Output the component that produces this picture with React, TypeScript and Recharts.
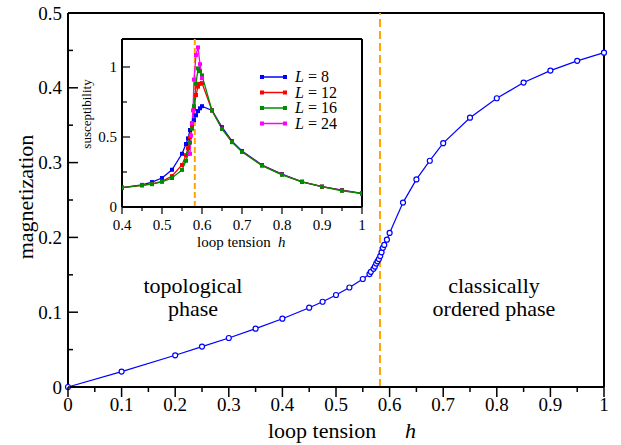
import React from 'react';
import { Legend, Line, LineChart, ReferenceLine, XAxis, YAxis } from 'recharts';

const SERIF =
  '"Liberation Serif", "Noto Serif", "Noto Serif CJK SC", Tinos, "Nimbus Roman", FreeSerif, "DejaVu Serif", "Times New Roman", Times, serif';
const serif = { fontFamily: SERIF };

// main panel: magnetization vs loop tension h
const mainH = [
  0, 0.1, 0.2, 0.25, 0.3, 0.35, 0.4, 0.45, 0.475, 0.5, 0.525, 0.55, 0.5625, 0.565, 0.57,
  0.5725, 0.575, 0.5775, 0.58, 0.5825, 0.585, 0.5875, 0.59, 0.595, 0.6, 0.625, 0.65, 0.675,
  0.7, 0.75, 0.8, 0.85, 0.9, 0.95, 1,
];
const mainM = [
  0, 0.0206, 0.0424, 0.054, 0.0655, 0.078, 0.0913, 0.106, 0.114, 0.123, 0.133, 0.1444, 0.151,
  0.154, 0.158, 0.161, 0.165, 0.168, 0.171, 0.175, 0.18, 0.186, 0.19, 0.197, 0.206, 0.2465,
  0.2775, 0.3025, 0.326, 0.36, 0.386, 0.407, 0.423, 0.436, 0.447,
];

// inset: susceptibility for each system size
const L8H = [
  0.4, 0.45, 0.475, 0.5, 0.525, 0.55, 0.56, 0.565, 0.57, 0.575, 0.58, 0.585, 0.59, 0.595, 0.6,
  0.625, 0.65, 0.675, 0.7, 0.75, 0.8, 0.85, 0.9, 0.95, 1,
];
const L8 = [
  0.138, 0.158, 0.178, 0.207, 0.266, 0.38, 0.45, 0.49, 0.55, 0.59, 0.62, 0.655, 0.685, 0.705,
  0.72, 0.69, 0.57, 0.47, 0.4, 0.3, 0.235, 0.18, 0.145, 0.12, 0.097,
];
const L12H = L8H;
const L12 = [
  0.138, 0.155, 0.165, 0.183, 0.221, 0.3, 0.37, 0.42, 0.5, 0.58, 0.7, 0.8, 0.86, 0.88, 0.885,
  0.69, 0.56, 0.465, 0.395, 0.297, 0.232, 0.18, 0.145, 0.118, 0.096,
];
const L16H = L8H;
const L16 = [
  0.138, 0.155, 0.163, 0.18, 0.207, 0.265, 0.33, 0.38, 0.46, 0.56, 0.72, 0.88, 0.99, 0.97, 0.94,
  0.69, 0.558, 0.463, 0.394, 0.296, 0.23, 0.18, 0.145, 0.116, 0.097,
];
const L24H = [0.57, 0.5725, 0.575, 0.5775, 0.58, 0.585, 0.59, 0.595, 0.6];
const L24 = [0.38, 0.51, 0.6, 0.69, 0.91, 1.085, 1.14, 1.02, 0.92];

const mainXTicks = [
  0, 0.05, 0.1, 0.15, 0.2, 0.25, 0.3, 0.35, 0.4, 0.45, 0.5, 0.55, 0.6, 0.65, 0.7, 0.75, 0.8, 0.85,
  0.9, 0.95, 1,
];
const mainYTicks = [0, 0.05, 0.1, 0.15, 0.2, 0.25, 0.3, 0.35, 0.4, 0.45, 0.5];
const insetXTicks = [0.4, 0.45, 0.5, 0.55, 0.6, 0.65, 0.7, 0.75, 0.8, 0.85, 0.9, 0.95, 1];
const insetYTicks = [0, 0.25, 0.5, 0.75, 1];

const hCritical = 0.582;

const mainData = mainH.map((h, i) => ({ h, m: mainM[i] }));
const zip = (hs: number[], vs: number[]) => hs.map((h, i) => ({ h, chi: vs[i] }));
const insetSeries = [
  { name: '8', color: '#0000ff', data: zip(L8H, L8) },
  { name: '12', color: '#ff0000', data: zip(L12H, L12) },
  { name: '16', color: '#008b00', data: zip(L16H, L16) },
  { name: '24', color: '#ff00ff', data: zip(L24H, L24) },
];

const onStep = (v: number, step: number) => Math.abs(v / step - Math.round(v / step)) < 1e-6;
const fmt = (v: number) => String(Number(v.toFixed(2)));

function xTick(step: number, major: number, minor: number, size: number, dy: number, sw: number) {
  return (p: any) => {
    const { x, y, payload } = p;
    const big = onStep(payload.value, step);
    return (
      <g>
        <line x1={x} x2={x} y1={y} y2={y + (big ? major : minor)} stroke="#000" strokeWidth={sw} />
        {big && (
          <text x={x} y={y + dy} textAnchor="middle" fontSize={size} style={serif} fill="#000">
            {fmt(payload.value)}
          </text>
        )}
      </g>
    );
  };
}

function yTick(step: number, major: number, minor: number, size: number, gap: number, sw: number, side: 1 | -1) {
  return (p: any) => {
    const { x, y, payload } = p;
    const big = onStep(payload.value, step);
    return (
      <g>
        <line x1={x} x2={x + side * (big ? major : minor)} y1={y} y2={y} stroke="#000" strokeWidth={sw} />
        {big && side === 1 && (
          <text x={x - gap} y={y} dy="0.35em" textAnchor="end" fontSize={size} style={serif} fill="#000">
            {fmt(payload.value)}
          </text>
        )}
      </g>
    );
  };
}

const square = (color: string) => (p: any) => (
  <rect key={p.index} x={p.cx - 2} y={p.cy - 2} width={4} height={4} fill={color} />
);

const renderLegend = (props: any) => {
  const payload = props.payload || [];
  return (
    <svg width={110} height={64} style={{ display: 'block' }}>
      {payload.map((p: any, i: number) => (
        <g key={i} transform={`translate(0, ${8 + i * 15.5})`}>
          <line x1={4} x2={27} y1={0} y2={0} stroke={p.color} strokeWidth={1.5} />
          <rect x={2} y={-2} width={4} height={4} fill={p.color} />
          <rect x={25} y={-2} width={4} height={4} fill={p.color} />
          <text x={37} y={5} fontSize={16} style={serif} fill="#000">
            <tspan fontStyle="italic">L</tspan> = {p.value}
          </text>
        </g>
      ))}
    </svg>
  );
};

const axisLine = { stroke: '#000', strokeWidth: 2 };

export default function App() {
  return (
    <div style={{ position: 'absolute', left: 0, top: 0, width: 621, height: 445, background: '#fff', ...serif }}>
      <div style={{ position: 'absolute', left: 0, top: 0 }}>
        <LineChart width={621} height={445} data={mainData} margin={{ top: 13, right: 0, bottom: 0, left: 0 }}>
          <XAxis
            dataKey="h"
            type="number"
            domain={[0, 1]}
            ticks={mainXTicks}
            interval={0}
            height={58}
            tickSize={0}
            tickMargin={0}
            axisLine={axisLine}
            tickLine={false}
            tick={xTick(0.1, 10, 5, 19, 24, 1.5)}
          />
          <YAxis
            type="number"
            domain={[0, 0.5]}
            ticks={mainYTicks}
            interval={0}
            width={68}
            tickSize={0}
            tickMargin={0}
            axisLine={axisLine}
            tickLine={false}
            tick={yTick(0.1, 10, 5, 19, 6, 1.5, 1)}
          />
          <YAxis
            yAxisId="r"
            orientation="right"
            type="number"
            domain={[0, 0.5]}
            ticks={mainYTicks}
            interval={0}
            width={17}
            tickSize={0}
            tickMargin={0}
            axisLine={axisLine}
            tickLine={false}
            tick={yTick(0.1, 10, 5, 19, 6, 1.5, -1)}
          />
          <ReferenceLine y={0.5} stroke="#000" strokeWidth={2} />
          <ReferenceLine x={hCritical} stroke="#ffa500" strokeWidth={2} strokeDasharray="8 4" />
          <Line
            dataKey="m"
            stroke="#0000ff"
            strokeWidth={1.2}
            dot={{ r: 2.5, stroke: '#0000ff', strokeWidth: 1.2, fill: '#fff' }}
            isAnimationActive={false}
          />
        </LineChart>
      </div>

      <div style={{ position: 'absolute', left: 0, top: 0 }}>
        <LineChart width={621} height={445} margin={{ top: 39, right: 0, bottom: 0, left: 0 }}>
          <XAxis
            dataKey="h"
            type="number"
            domain={[0.4, 1]}
            ticks={insetXTicks}
            interval={0}
            height={238}
            tickSize={0}
            tickMargin={0}
            axisLine={axisLine}
            tickLine={false}
            tick={xTick(0.1, 7, 4, 15, 23, 1.2)}
            allowDataOverflow
          />
          <YAxis
            type="number"
            domain={[0, 1.2]}
            ticks={insetYTicks}
            interval={0}
            width={122}
            tickSize={0}
            tickMargin={0}
            axisLine={axisLine}
            tickLine={false}
            tick={yTick(0.5, 8, 5, 15, 5, 1.2, 1)}
            allowDataOverflow
          />
          <YAxis
            yAxisId="r"
            orientation="right"
            type="number"
            domain={[0, 1.2]}
            ticks={insetYTicks}
            interval={0}
            width={259}
            tickSize={0}
            tickMargin={0}
            axisLine={axisLine}
            tickLine={false}
            tick={yTick(0.5, 8, 5, 15, 5, 1.2, -1)}
          />
          <ReferenceLine y={1.2} stroke="#000" strokeWidth={2} />
          <ReferenceLine x={hCritical} stroke="#ffa500" strokeWidth={2} strokeDasharray="6 3" />
          <Legend
            layout="vertical"
            align="center"
            verticalAlign="middle"
            itemSorter={(item: any) => Number(item.value)}
            wrapperStyle={{ left: 258, top: 69, width: 110, height: 64 }}
            content={renderLegend}
          />
          {insetSeries.map((s) => (
            <Line
              key={s.name}
              data={s.data}
              dataKey="chi"
              name={s.name}
              stroke={s.color}
              strokeWidth={1.3}
              dot={square(s.color)}
              isAnimationActive={false}
            />
          ))}
        </LineChart>
      </div>

      <svg
        width={621}
        height={445}
        style={{ position: 'absolute', left: 0, top: 0, pointerEvents: 'none', ...serif }}
      >
        <text transform="translate(33 197) rotate(-90)" textAnchor="middle" fontSize={22}>
          magnetization
        </text>
        <text x={268} y={438} fontSize={22}>loop tension</text>
        <text x={405} y={438} fontSize={22} fontStyle="italic">h</text>

        <text x={193} y={293} textAnchor="middle" fontSize={22}>topological</text>
        <text x={193} y={316} textAnchor="middle" fontSize={22}>phase</text>
        <text x={494} y={293} textAnchor="middle" fontSize={22}>classically</text>
        <text x={494} y={316} textAnchor="middle" fontSize={22}>ordered phase</text>

        <text transform="translate(91 114) rotate(-90)" textAnchor="middle" fontSize={13}>
          susceptibility
        </text>
        <text x={197} y={247} fontSize={15}>loop tension</text>
        <text x={278} y={247} fontSize={15} fontStyle="italic">h</text>
      </svg>
    </div>
  );
}
